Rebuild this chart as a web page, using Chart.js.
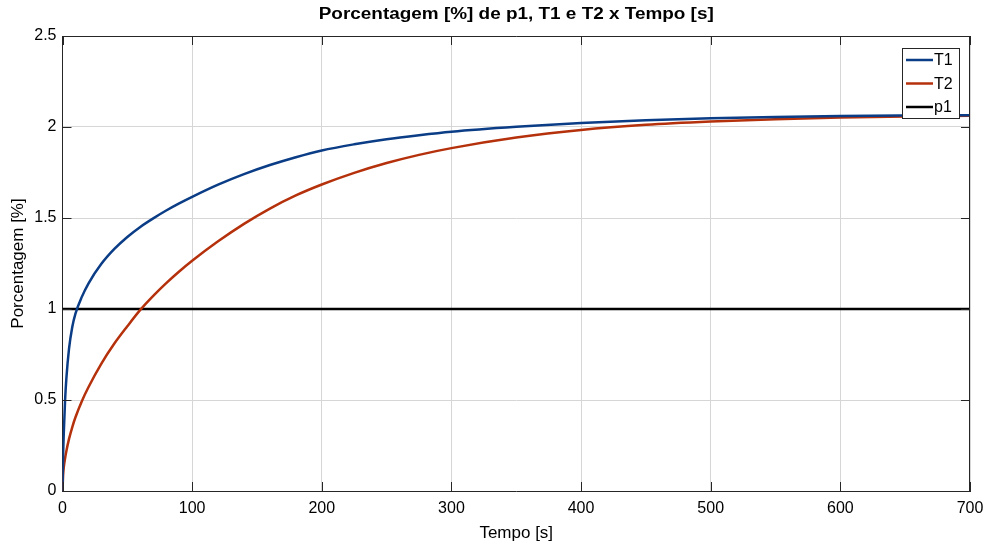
<!DOCTYPE html>
<html>
<head>
<meta charset="utf-8">
<script src="https://cdn.jsdelivr.net/npm/chart.js@4.4.1/dist/chart.umd.min.js"></script>
<style>
  html, body { margin: 0; padding: 0; background: #fff; }
  #wrap { width: 987px; height: 544px; position: relative; }
</style>
</head>
<body>
<div id="wrap"><canvas id="c" width="987" height="544"></canvas></div>
<script>
// ---- data ----
const titleText = 'Porcentagem [%] de p1, T1 e T2 x Tempo [s]';
const xTitle = 'Tempo [s]';
const yTitle = 'Porcentagem [%]';
const seriesNames = ['T1', 'T2', 'p1'];
const tVals  = [0, 0.5, 1, 2, 3, 5, 7.5, 10, 15, 20, 30, 40, 50, 60, 70, 80, 90, 100, 120, 140, 160, 180, 200, 225, 250, 275, 300, 350, 400, 450, 500, 550, 600, 650, 700];
const t1Vals = [0, 0.2, 0.32, 0.5, 0.62, 0.78, 0.9, 0.975, 1.068, 1.14, 1.248, 1.33, 1.396, 1.451, 1.498, 1.541, 1.58, 1.616, 1.683, 1.741, 1.791, 1.834, 1.871, 1.905, 1.933, 1.955, 1.974, 2.001, 2.022, 2.037, 2.048, 2.055, 2.06, 2.063, 2.065];
const t2Vals = [0, 0.09, 0.13, 0.18, 0.22, 0.285, 0.35, 0.405, 0.495, 0.57, 0.70, 0.81, 0.905, 0.995, 1.072, 1.142, 1.206, 1.265, 1.372, 1.468, 1.552, 1.624, 1.684, 1.748, 1.802, 1.847, 1.884, 1.942, 1.984, 2.012, 2.03, 2.043, 2.052, 2.058, 2.062];
const p1Vals = tVals.map(() => 1);
const xTicks = [0, 100, 200, 300, 400, 500, 600, 700];
const yTicks = [0, 0.5, 1, 1.5, 2, 2.5];

const colors = ['#0b3d86', '#b5310c', '#000000'];
const FONT = 'Arial, "Liberation Sans", Helvetica, sans-serif';

function pts(ys) { return tVals.map((t, i) => ({ x: t, y: ys[i] })); }

const overlay = {
  id: 'overlay',
  afterDraw(chart) {
    const ctx = chart.ctx;
    const a = chart.chartArea;
    const xs = chart.scales.x, ys = chart.scales.y;
    ctx.save();
    // box top & right
    ctx.strokeStyle = '#262626';
    ctx.lineWidth = 1;
    ctx.beginPath();
    ctx.moveTo(a.left, a.top + 0.5); ctx.lineTo(a.right, a.top + 0.5);
    ctx.moveTo(a.right - 0.5, a.top); ctx.lineTo(a.right - 0.5, a.bottom);
    ctx.stroke();
    // inward ticks
    ctx.beginPath();
    const tl = 9;
    xTicks.forEach(v => {
      const px = Math.round(xs.getPixelForValue(v)) + 0.5;
      ctx.moveTo(px, a.bottom); ctx.lineTo(px, a.bottom - tl);
      ctx.moveTo(px, a.top); ctx.lineTo(px, a.top + tl);
    });
    yTicks.forEach(v => {
      const py = Math.round(ys.getPixelForValue(v)) + 0.5;
      ctx.moveTo(a.left, py); ctx.lineTo(a.left + tl, py);
      ctx.moveTo(a.right, py); ctx.lineTo(a.right - tl, py);
    });
    ctx.stroke();
    // title (stretched horizontally to match reference width)
    ctx.fillStyle = '#000';
    ctx.font = 'bold 16px ' + FONT;
    ctx.textAlign = 'center';
    ctx.textBaseline = 'middle';
    const w = ctx.measureText(titleText).width;
    const sx = 395 / w;
    ctx.save();
    ctx.translate((a.left + a.right) / 2, 15);
    ctx.scale(sx, 1);
    ctx.fillText(titleText, 0, 0);
    ctx.restore();
    // legend
    const bx = a.right - 68, by = a.top + 12, bw = 57, bh = 70;
    ctx.fillStyle = '#fff';
    ctx.fillRect(bx, by, bw, bh);
    ctx.strokeStyle = '#262626';
    ctx.lineWidth = 1;
    ctx.strokeRect(bx + 0.5, by + 0.5, bw, bh);
    ctx.font = '16px ' + FONT;
    ctx.textAlign = 'left';
    chart.data.datasets.forEach((ds, i) => {
      const cy = by + 12 + i * 23.5;
      ctx.strokeStyle = ds.borderColor;
      ctx.lineWidth = 2.5;
      ctx.beginPath();
      ctx.moveTo(bx + 4, cy); ctx.lineTo(bx + 31, cy);
      ctx.stroke();
      ctx.fillStyle = '#000';
      ctx.fillText(ds.label, bx + 32, cy + 1);
    });
    ctx.restore();
  }
};

new Chart(document.getElementById('c'), {
  type: 'line',
  data: {
    datasets: seriesNames.map((name, i) => ({
      label: name,
      data: pts([t1Vals, t2Vals, p1Vals][i]),
      borderColor: colors[i],
      backgroundColor: colors[i],
      borderWidth: 2.5,
      pointRadius: 0,
      cubicInterpolationMode: 'monotone',
      fill: false
    }))
  },
  options: {
    responsive: false,
    animation: false,
    layout: { padding: { left: 0, right: 17, top: 36, bottom: 0 } },
    plugins: { legend: { display: false }, title: { display: false }, tooltip: { enabled: false } },
    scales: {
      x: {
        type: 'linear', min: 0, max: 700,
        afterBuildTicks: s => { s.ticks = xTicks.map(v => ({ value: v })); },
        afterFit: s => { s.height = 53; s.paddingLeft = 0; s.paddingRight = 0; },
        grid: { color: '#d6d6d6', lineWidth: 1, drawTicks: false },
        border: { color: '#262626', width: 1 },
        ticks: { color: '#000', font: { family: FONT, size: 16 }, padding: 8, maxRotation: 0, callback: v => String(v) },
        title: { display: true, text: xTitle, color: '#000', font: { family: FONT, size: 17 }, padding: { top: 0, bottom: 0 } }
      },
      y: {
        type: 'linear', min: 0, max: 2.5,
        afterBuildTicks: s => { s.ticks = yTicks.map(v => ({ value: v })); },
        afterFit: s => { s.width = 62.5; s.paddingTop = 0; s.paddingBottom = 0; },
        grid: { color: '#d6d6d6', lineWidth: 1, drawTicks: false },
        border: { color: '#262626', width: 1 },
        ticks: { color: '#000', font: { family: FONT, size: 16 }, padding: 6, callback: v => String(v) },
        title: { display: true, text: yTitle, color: '#000', font: { family: FONT, size: 17 }, padding: { top: 8, bottom: 0 } }
      }
    }
  },
  plugins: [overlay]
});
</script>
</body>
</html>
